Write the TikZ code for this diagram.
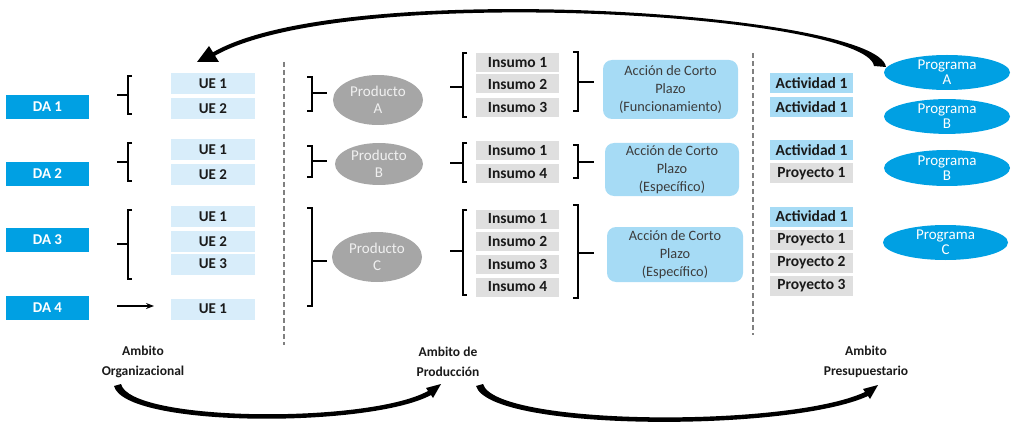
\documentclass[tikz,border=0pt]{standalone}
\usepackage{fontspec}
\setmainfont{Carlito}
\usetikzlibrary{arrows.meta,shapes.geometric}
\definecolor{dablue}{HTML}{00A0E3}
\definecolor{uelight}{HTML}{D8EDFA}
\definecolor{insgray}{HTML}{DFDFDF}
\definecolor{actblue}{HTML}{A6DBF5}
\definecolor{accblue}{HTML}{A6DBF5}
\definecolor{prodgray}{HTML}{A6A6A6}
\definecolor{txtdark}{HTML}{1A1A1A}
\definecolor{dashgray}{HTML}{808080}
\newcommand{\brkopen}[5]{%
  \draw[brk] (#1+4,#2) -- (#1,#2) -- (#1,#3) -- (#1+4,#3);
  \draw[brk] (#1-#5,#4) -- (#1,#4);}
\newcommand{\brkclose}[5]{%
  \draw[brk] (#1-5,#2) -- (#1,#2) -- (#1,#3) -- (#1-5,#3);
  \draw[brk] (#1,#4) -- (#1+#5,#4);}
\begin{document}
\begin{tikzpicture}[x=1pt,y=-1pt,
  boldf/.style={font=\bfseries\fontsize{15.5}{17}\selectfont, text=txtdark},
  dabox/.style={fill=dablue, text=white, font=\bfseries\fontsize{15}{17}\selectfont, minimum width=83pt, minimum height=24pt, inner sep=0pt},
  uebox/.style={boldf, font=\bfseries\fontsize{15}{17}\selectfont, fill=uelight, minimum width=84pt, minimum height=21pt, inner sep=0pt},
  insbox/.style={boldf, fill=insgray, minimum width=83pt, minimum height=19pt, inner sep=0pt},
  actbox/.style={boldf, fill=actblue, minimum width=83pt, minimum height=20pt, inner sep=0pt},
  proybox/.style={boldf, fill=insgray, minimum width=83pt, minimum height=20pt, inner sep=0pt},
  prodell/.style={ellipse, fill=prodgray, text=white!94!black, font=\fontsize{15}{17.5}\selectfont, align=center, inner sep=0pt, minimum width=90pt, minimum height=50pt},
  progell/.style={ellipse, fill=dablue, text=white, font=\fontsize{15}{15}\selectfont, align=center, inner sep=0pt, minimum width=126pt, minimum height=35pt},
  accbox/.style={rounded corners=9pt, fill=accblue, text=txtdark!85, align=center, font=\fontsize{14.3}{18}\selectfont, inner sep=0pt},
  lbl/.style={font=\bfseries\fontsize{13.5}{20}\selectfont, text=txtdark, align=center},
  brk/.style={line width=1.4pt, black},
  dashline/.style={dashgray, line width=1.2pt, dash pattern=on 5pt off 3pt},
  bigarrow/.style={fill=black}
]
\useasboundingbox (0,0) rectangle (1011,422);

% DA nodes
\node[dabox] (da1) at (47.5,107) {DA 1};
\node[dabox] (da2) at (47.5,174) {DA 2};
\node[dabox] (da3) at (47.5,240) {DA 3};
\node[dabox] (da4) at (47.5,307.5) {DA 4};

% UE nodes
\node[uebox] (ue11) at (213,83.5) {UE 1};
\node[uebox] (ue12) at (213,108.5) {UE 2};
\node[uebox] (ue21) at (213,150) {UE 1};
\node[uebox] (ue22) at (213,175) {UE 2};
\node[uebox] (ue31) at (213,216.5) {UE 1};
\node[uebox] (ue32) at (213,241.5) {UE 2};
\node[uebox] (ue33) at (213,264) {UE 3};
\node[uebox] (ue41) at (213,309) {UE 1};

\brkopen{128}{76}{114}{95}{11}
\brkopen{128}{143}{181}{162}{11}
\brkopen{128}{210}{279}{244}{11}
\coordinate (da4a) at (117,306);
\coordinate (da4b) at (154,306);
\draw[line width=1.3pt,-{Stealth[length=8pt,width=6pt]}] (da4a) -- (da4b);

% dashed separators
\coordinate (s1t) at (284,62); \coordinate (s1b) at (284,345);
\coordinate (s2t) at (753,53); \coordinate (s2b) at (753,335);
\draw[dashline] (s1t) -- (s1b);
\draw[dashline] (s2t) -- (s2b);

% Productos
\node[prodell] (pa) at (378,100) {Producto\\A};
\node[prodell, minimum width=88pt, minimum height=42pt] (pb) at (379,164) {Producto\\B};
\node[prodell] (pc) at (377,257) {Producto\\C};
\brkclose{312}{77}{111}{93}{15}
\brkclose{312}{146}{177}{161}{15}
\brkclose{312}{208}{306}{261}{15}

% Insumos
\node[insbox] (ia1) at (517.5,62.5) {Insumo 1};
\node[insbox] (ia2) at (517.5,84) {Insumo 2};
\node[insbox] (ia3) at (517.5,107.5) {Insumo 3};
\node[insbox] (ib1) at (517.5,151) {Insumo 1};
\node[insbox] (ib4) at (517.5,173.5) {Insumo 4};
\node[insbox] (ic1) at (517.5,219) {Insumo 1};
\node[insbox] (ic2) at (517.5,241.5) {Insumo 2};
\node[insbox] (ic3) at (517.5,264) {Insumo 3};
\node[insbox] (ic4) at (517.5,287) {Insumo 4};
\brkopen{463}{53}{117}{87}{13}
\brkopen{463}{143}{182}{163}{13}
\brkopen{463}{210}{295}{251}{13}
\brkclose{578}{52}{111}{82}{16}
\brkclose{578}{145}{178}{162}{16}
\brkclose{578}{205}{298}{253}{16}

% Acciones
\node[accbox, minimum width=135pt, minimum height=59pt] (aa) at (670.5,89.5) {Acción de Corto\\Plazo\\(Funcionamiento)};
\node[accbox, minimum width=134pt, minimum height=53pt] (ab) at (672,169.5) {Acción de Corto\\Plazo\\(Específico)};
\node[accbox, minimum width=136pt, minimum height=55pt] (ac) at (675,254.5) {Acción de Corto\\Plazo\\(Específico)};

% Actividades / Proyectos
\node[actbox] (t1) at (811.5,83) {Actividad 1};
\node[actbox] (t2) at (811.5,107.5) {Actividad 1};
\node[actbox] (t3) at (811.5,150) {Actividad 1};
\node[proybox] (t4) at (811.5,173.5) {Proyecto 1};
\node[actbox] (t5) at (811.5,216.5) {Actividad 1};
\node[proybox] (t6) at (811.5,240) {Proyecto 1};
\node[proybox] (t7) at (811.5,262.5) {Proyecto 2};
\node[proybox] (t8) at (811.5,285.5) {Proyecto 3};

% Programas
\node[progell] (pga) at (947,72.5) {Programa\\A};
\node[progell, minimum height=33pt] (pgb1) at (947,116.5) {Programa\\B};
\node[progell, minimum height=36pt] (pgb2) at (947,168) {Programa\\B};
\node[progell, minimum width=125pt] (pgc) at (945.5,242.5) {Programa\\C};

% Ambito labels
\node[lbl] (lo) at (143,362) {Ambito\\Organizacional};
\node[lbl] (lp) at (448,362) {Ambito de\\Producción};
\node[lbl] (lpr) at (866,362) {Ambito\\Presupuestario};

% bottom arrow 1 : Organizacional -> Produccion
\coordinate (a1p1) at (114,386); \coordinate (a1p2) at (121,384);
\coordinate (a1q1) at (431,395); \coordinate (a1q2) at (428,391);
\coordinate (a1c1) at (433,398); \coordinate (a1c2) at (426,388);
\coordinate (a1t) at (441,384);
\fill[bigarrow] (a1p1) .. controls (125,428) and (370,428) .. (a1q1)
  -- (a1c1) -- (a1t) -- (a1c2) -- (a1q2)
  .. controls (368,424) and (130,422) .. (a1p2) -- cycle;

% bottom arrow 2 : Produccion -> Presupuestario
\coordinate (a2p1) at (476,386); \coordinate (a2p2) at (483,384);
\coordinate (a2q1) at (868,396); \coordinate (a2q2) at (865,392);
\coordinate (a2c1) at (870,399); \coordinate (a2c2) at (863,389);
\coordinate (a2t) at (878,385);
\fill[bigarrow] (a2p1) .. controls (490,432) and (790,432) .. (a2q1)
  -- (a2c1) -- (a2t) -- (a2c2) -- (a2q2)
  .. controls (788,428) and (495,426) .. (a2p2) -- cycle;

% top arrow : Programa A -> UE
\coordinate (a3r1) at (886,67); \coordinate (a3r2) at (874,66);
\coordinate (a3h1) at (213,52.3); \coordinate (a3h2) at (215,55.7);
\coordinate (a3c1) at (209,46); \coordinate (a3c2) at (219,62);
\coordinate (a3t) at (197,62);
\fill[bigarrow] (a3r1) .. controls (878,12) and (343,-23) .. (a3h1)
  -- (a3c1) -- (a3t) -- (a3c2) -- (a3h2)
  .. controls (345,-18) and (866,14) .. (a3r2) -- cycle;
\end{tikzpicture}
\end{document}
